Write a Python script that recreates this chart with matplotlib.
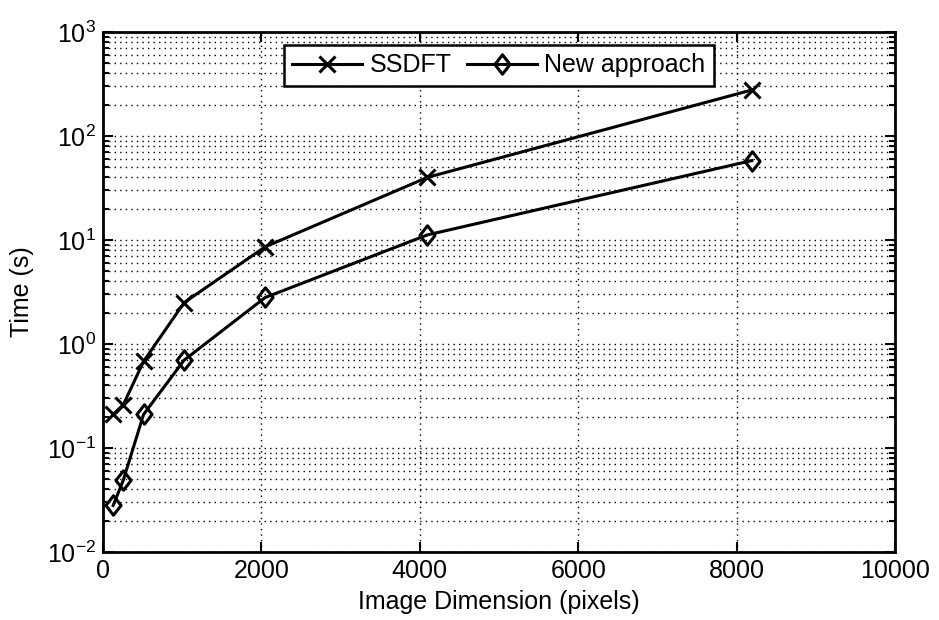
import matplotlib
matplotlib.use('Agg')
import matplotlib.pyplot as plt
from matplotlib.path import Path
from matplotlib.ticker import LogLocator, NullFormatter

plt.rcParams['font.family'] = ['Liberation Sans', 'DejaVu Sans']
plt.rcParams['mathtext.fontset'] = 'custom'
plt.rcParams['mathtext.rm'] = 'Liberation Sans'
plt.rcParams['mathtext.it'] = 'Liberation Sans'
plt.rcParams['font.size'] = 18

# image dimension (pixels)
dims = [128, 256, 512, 1024, 2048, 4096, 8192]
# run time (s)
ssdft_time = [0.21, 0.26, 0.68, 2.5, 8.6, 40, 277]
new_time = [0.028, 0.049, 0.21, 0.70, 2.8, 11.2, 58]

x_ticks = [0, 2000, 4000, 6000, 8000, 10000]

# slightly narrow diamond like the matlab one in the scan
diamond = Path([(0, 1), (0.78, 0), (0, -1), (-0.78, 0), (0, 1)],
               [Path.MOVETO, Path.LINETO, Path.LINETO, Path.LINETO, Path.CLOSEPOLY])

fig = plt.figure(figsize=(9.39, 6.2), dpi=100)
fig.subplots_adjust(left=103/939, right=895/939, top=1-32/620, bottom=1-552/620)
ax = fig.add_subplot(111)

ax.plot(dims, ssdft_time, color='black', lw=2.2, marker='x', ms=11, mew=2.2, label='SSDFT')
ax.plot(dims, new_time, color='black', lw=2.2, marker=diamond, ms=14, mew=2.2,
        fillstyle='none', label='New approach')

ax.set_yscale('log')
ax.set_xlim(0, 10000)
ax.set_ylim(1e-2, 1e3)
ax.set_xticks(x_ticks)
ax.yaxis.set_major_locator(LogLocator(base=10, numticks=10))
ax.yaxis.set_minor_locator(LogLocator(base=10, subs=range(2, 10), numticks=20))
ax.yaxis.set_minor_formatter(NullFormatter())

# matlab style dotted grid
ax.grid(True, which='major', axis='both', color='black', linestyle=(0, (1, 3)), lw=1.0)
ax.grid(True, which='minor', axis='y', color='black', linestyle=(0, (1, 3)), lw=1.0)

ax.tick_params(which='both', direction='in', top=True, right=True, width=1.5)
ax.tick_params(which='major', length=7, pad=5)
ax.tick_params(which='minor', length=4)
for sp in ax.spines.values():
    sp.set_linewidth(2)

ax.set_xlabel('Image Dimension (pixels)', labelpad=5)
ax.set_ylabel('Time (s)', labelpad=9)

leg = ax.legend(loc='upper center', ncol=2, frameon=True, fancybox=False,
                edgecolor='black', framealpha=1, handlelength=2.8, columnspacing=0.6,
                handletextpad=0.3, borderpad=0.35, borderaxespad=0.4,
                bbox_to_anchor=(0.5, 0.995))
leg.get_frame().set_linewidth(1.8)

fig.savefig('out.png', dpi=100)
